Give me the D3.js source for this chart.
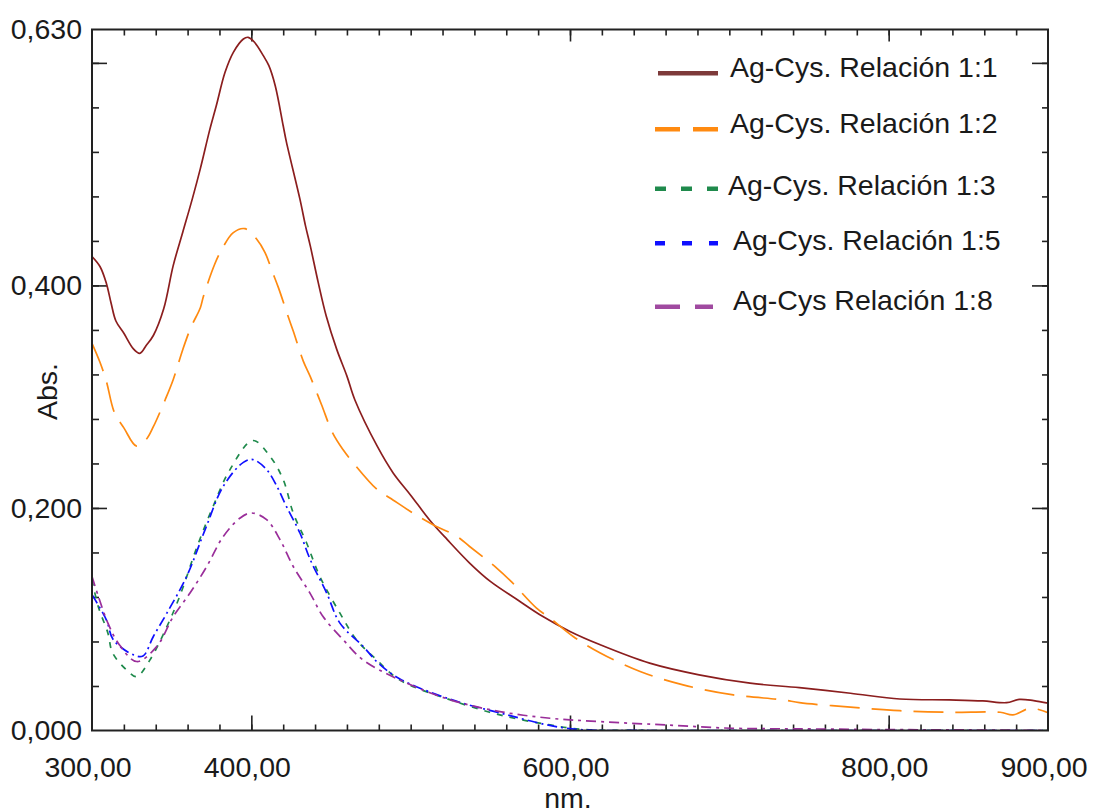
<!DOCTYPE html>
<html>
<head>
<meta charset="utf-8">
<script src="https://cdn.jsdelivr.net/npm/d3@7"></script>
<style>
  body { margin: 0; background: #fff; }
  svg { display: block; font-family: "Liberation Sans", Arial, sans-serif; }
  .lbl { font-size: 28.5px; fill: #1a1a1a; }
</style>
</head>
<body>
<svg width="1094" height="811"></svg>
<script>
var width = 1094;
var height = 811;
var plotLeft = 92, plotRight = 1048, plotTop = 29.5, plotBottom = 730.5;

// series names
var seriesNames = [
    'Ag-Cys. Relación 1:1',
    'Ag-Cys. Relación 1:2',
    'Ag-Cys. Relación 1:3',
    'Ag-Cys. Relación 1:5',
    'Ag-Cys Relación 1:8'
];

// [nm, Abs.]
var ratio11 = [
    [300, 0.426], [305, 0.417], [309, 0.402], [312, 0.384], [315, 0.368], [320, 0.357],
    [326, 0.343], [330, 0.339], [334, 0.346], [338.5, 0.355], [345, 0.379], [351, 0.418],
    [357, 0.448], [363, 0.478], [368, 0.505], [374, 0.5405], [378, 0.5615], [383.5, 0.5915],
    [388.7, 0.6095], [395, 0.6215], [398, 0.623], [402, 0.6185], [407.5, 0.6065], [411, 0.5975],
    [415, 0.5795], [420, 0.5435], [422, 0.529], [430.5, 0.4775], [434, 0.4535], [437, 0.4355],
    [442, 0.4025], [447, 0.3725], [453.6, 0.3425], [460, 0.3185], [465, 0.297], [479, 0.2555],
    [489, 0.2315], [500, 0.2115], [512, 0.189], [523, 0.1715], [537, 0.1505], [550, 0.134],
    [567, 0.1175], [583, 0.1024], [600, 0.089], [619, 0.077], [650, 0.0605], [681, 0.050],
    [713, 0.0425], [744, 0.0385], [776, 0.0335], [807, 0.0283], [838, 0.0275], [859, 0.0266],
    [874, 0.025], [882, 0.028], [891, 0.0268], [900, 0.0245]
];

var ratio12 = [
    [300, 0.348], [305, 0.331], [309, 0.314], [314, 0.286], [320, 0.272], [328, 0.2555],
    [334, 0.2615], [338.5, 0.273], [346, 0.2975], [351, 0.3155], [357, 0.3425], [362, 0.362],
    [368, 0.380], [370, 0.3905], [377, 0.419], [381.5, 0.4325], [388.7, 0.4475], [396, 0.451],
    [403.4, 0.4415], [408.6, 0.4295], [413, 0.413], [417, 0.398], [423, 0.3725], [426.3, 0.359],
    [432.6, 0.332], [437, 0.318], [444, 0.293], [451, 0.2675], [457.5, 0.2525], [464, 0.2405],
    [479, 0.2165], [487, 0.209], [503, 0.194], [514, 0.185], [529, 0.1744], [537, 0.1654],
    [554, 0.146], [563, 0.134], [579, 0.11], [587.5, 0.101], [602, 0.0845], [619, 0.0697],
    [644, 0.053], [671, 0.041], [702.5, 0.032], [734, 0.0275], [744, 0.025], [776, 0.021],
    [807, 0.0178], [838, 0.0164], [870, 0.0164], [878, 0.014], [889, 0.020], [900, 0.016]
];

var ratio13 = [
    [300, 0.1355], [304, 0.111], [310, 0.0875], [313, 0.0695], [322.8, 0.053], [328, 0.0484],
    [336.4, 0.0635], [347, 0.0934], [355, 0.1204], [366, 0.1654], [376, 0.2014], [386.6, 0.2345],
    [401, 0.2606], [411.7, 0.2464], [420, 0.2255], [426.3, 0.1955], [434.7, 0.1685], [443, 0.1384],
    [455.6, 0.1055], [466, 0.0815], [478.7, 0.0635], [493, 0.0455], [525, 0.0275], [556, 0.014],
    [587.5, 0.005], [608, 0.001], [650, 0.0], [700, 0.0], [750, 0.0], [800, 0.0], [850, 0.0], [900, 0.0]
];

var ratio15 = [
    [300, 0.122], [309, 0.0995], [313.4, 0.0815], [326, 0.068], [332, 0.067], [338.5, 0.0845],
    [347, 0.1055], [359.4, 0.1384], [371, 0.1805], [382.4, 0.2195], [395, 0.241], [401, 0.2435],
    [409.6, 0.2345], [416, 0.2195], [422, 0.2015], [430.5, 0.1775], [437, 0.1535], [447.3, 0.1235],
    [455.6, 0.0965], [470.3, 0.0754], [479.7, 0.0605], [493, 0.0465], [525, 0.028], [556, 0.0158],
    [598, 0.002], [650, 0.0], [700, 0.0], [750, 0.0], [800, 0.0], [850, 0.0], [900, 0.0]
];

var ratio18 = [
    [300, 0.1384], [304, 0.1204], [310, 0.0965], [316.5, 0.0785], [328, 0.062], [340.6, 0.0754],
    [351, 0.1024], [361.5, 0.1235], [372, 0.1474], [382.4, 0.1744], [393, 0.191], [400, 0.1955],
    [409.6, 0.1895], [418, 0.1715], [426.3, 0.1474], [436.8, 0.1235], [445, 0.1024], [457.7, 0.0815],
    [470, 0.0635], [493, 0.0455], [525, 0.0275], [556, 0.017], [587.5, 0.011], [619, 0.008],
    [660, 0.005], [702, 0.002], [742, 0.0015], [800, 0.0008], [850, 0.0005], [900, 0.0]
];

// tick values
var xLabelTicks = [300, 400, 600, 800, 900];
var xMajorTicks = [400, 600, 800];
var xMinorTicks = d3.range(320, 900, 20);
var yLabelTicks = [0, 0.2, 0.4, 0.63];
var yMajorTicks = [0.2, 0.4, 0.6];
var yMinorTicks = d3.range(1, 16).map(i => i * 0.04);

var allSeries = [ratio11, ratio12, ratio13, ratio15, ratio18];
var colors = ['#8b1e1e', '#ff8a10', '#1f8a4c', '#1010ff', '#9a2e9a'];
var legendColors = ['#7d3a3a', '#ff8a10', '#1f8a4c', '#1010ff', '#a04aa0'];
var lineDash = [null, '30,12', '6,7', '10,4,2,4', '10,5,3,5'];
var legendDash = [null, '25,13', '11,15', '10,17', '25,15'];
var legendY = [76.7, 133, 195, 250, 310];
var legendLineY = [73.3, 129.3, 188.7, 243.3, 306.7];
var legendTextX = [730, 730, 728, 733, 733];
var legendLineX = [[658, 718], [655, 718], [655, 718], [655, 718], [655, 713]];

var locale = d3.formatLocale({decimal: ',', thousands: '.', grouping: [3], currency: ['', '']});
var fmtX = locale.format('.2f');
var fmtY = locale.format('.3f');

var xScale = d3.scaleLinear().domain([300, 900]).range([plotLeft, plotRight]);
var yScale = d3.scaleLinear().domain([0, 0.63]).range([plotBottom, plotTop]);

var svg = d3.select('svg');

svg.append('defs').append('clipPath').attr('id', 'plot')
    .append('rect')
        .attr('x', plotLeft).attr('y', plotTop)
        .attr('width', plotRight - plotLeft).attr('height', plotBottom - plotTop);

// inward ticks on all four sides
function tickAxis(axis, t, vals, size){
    var g = svg.append('g')
        .attr('transform', t)
        .call(axis.tickValues(vals).tickSize(-size).tickFormat(''));
    g.select('.domain').remove();
    g.selectAll('line').attr('stroke', '#222').attr('stroke-width', 1.6);
    return g;
}

tickAxis(d3.axisBottom(xScale), 'translate(0,' + plotBottom + ')', xMinorTicks, 6);
tickAxis(d3.axisBottom(xScale), 'translate(0,' + plotBottom + ')', xMajorTicks, 15);
tickAxis(d3.axisTop(xScale), 'translate(0,' + plotTop + ')', xMinorTicks, 6);
tickAxis(d3.axisTop(xScale), 'translate(0,' + plotTop + ')', xMajorTicks, 12);
tickAxis(d3.axisLeft(yScale), 'translate(' + plotLeft + ',0)', yMinorTicks, 7);
tickAxis(d3.axisLeft(yScale), 'translate(' + plotLeft + ',0)', yMajorTicks, 15);
tickAxis(d3.axisRight(yScale), 'translate(' + plotRight + ',0)', yMinorTicks, 6);
tickAxis(d3.axisRight(yScale), 'translate(' + plotRight + ',0)', yMajorTicks, 16);

// tick labels
svg.append('g')
    .selectAll('text')
    .data(xLabelTicks)
    .enter()
    .append('text')
        .attr('class', 'lbl')
        .attr('x', d => xScale(d) - 4)
        .attr('y', 777)
        .style('text-anchor', 'middle')
        .text(d => fmtX(d));

svg.append('g')
    .selectAll('text')
    .data(yLabelTicks)
    .enter()
    .append('text')
        .attr('class', 'lbl')
        .attr('x', 82)
        .attr('y', d => yScale(d))
        .attr('dy', '0.35em')
        .style('text-anchor', 'end')
        .text(d => fmtY(d));

// axis titles
svg.append('text')
    .attr('class', 'lbl')
    .attr('x', 568)
    .attr('y', 808)
    .style('text-anchor', 'middle')
    .text('nm.');

svg.append('text')
    .attr('class', 'lbl')
    .attr('transform', 'translate(56.5,391.5) rotate(-90)')
    .style('text-anchor', 'middle')
    .text('Abs.');

// spectra
var line = d3.line()
    .x(d => xScale(d[0]))
    .y(d => yScale(d[1]))
    .curve(d3.curveCatmullRom.alpha(0.5));

svg.append('g')
    .attr('clip-path', 'url(#plot)')
    .selectAll('path')
    .data(allSeries)
    .enter()
    .append('path')
        .attr('d', line)
        .attr('fill', 'none')
        .attr('stroke', (d, i) => colors[i])
        .attr('stroke-width', 1.7)
        .attr('stroke-dasharray', (d, i) => lineDash[i]);

// frame
svg.append('rect')
    .attr('x', plotLeft).attr('y', plotTop)
    .attr('width', plotRight - plotLeft).attr('height', plotBottom - plotTop)
    .attr('fill', 'none')
    .attr('stroke', '#222')
    .attr('stroke-width', 2);

// legend
var legend = svg.append('g')
    .selectAll('g')
    .data(seriesNames)
    .enter()
    .append('g');

legend.append('line')
    .attr('x1', (d, i) => legendLineX[i][0])
    .attr('x2', (d, i) => legendLineX[i][1])
    .attr('y1', (d, i) => legendLineY[i])
    .attr('y2', (d, i) => legendLineY[i])
    .attr('stroke', (d, i) => legendColors[i])
    .attr('stroke-width', 4.5)
    .attr('stroke-dasharray', (d, i) => legendDash[i]);

legend.append('text')
    .attr('class', 'lbl')
    .attr('x', (d, i) => legendTextX[i])
    .attr('y', (d, i) => legendY[i])
    .text(d => d);
</script>
</body>
</html>
